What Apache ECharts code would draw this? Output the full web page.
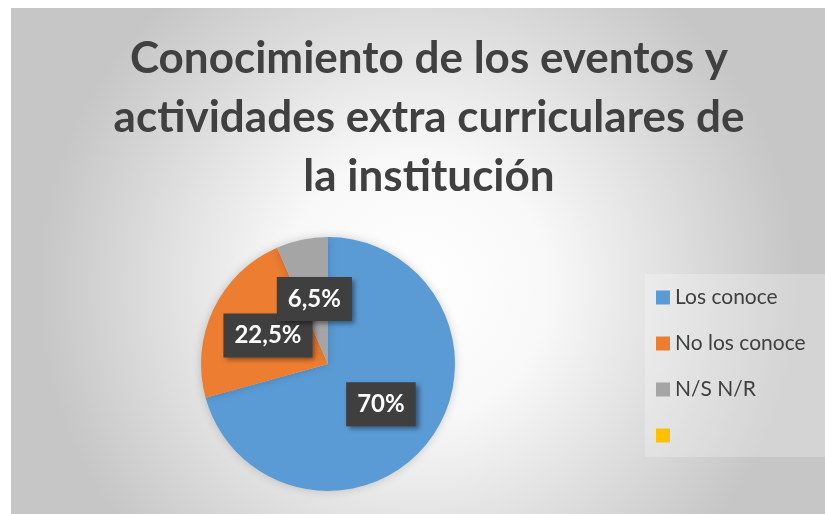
<!DOCTYPE html>
<html>
<head>
<meta charset="utf-8">
<script src="https://cdn.jsdelivr.net/npm/echarts@6/dist/echarts.min.js"></script>
<style>
  html, body { margin: 0; padding: 0; background: #fff; }
  #chart { position: absolute; left: 11px; top: 8px; width: 814px; height: 506px; }
</style>
</head>
<body>
<div id="chart"></div>
<script>
// datos
var categorias = ["Los conoce", "No los conoce", "N/S N/R", " "];
var valores = [0.70, 0.225, 0.065, 0];
var etiquetas = ["70%", "22,5%", "6,5%", ""];
var colores = ["#5B9BD5", "#ED7D31", "#A5A5A5", "#FFC000"];

var chart = echarts.init(document.getElementById("chart"));

var datos = categorias.map(function (c, i) {
  return {
    name: c,
    value: valores[i],
    itemStyle: { color: colores[i] },
    label: { show: valores[i] > 0 }
  };
});

chart.setOption({
  backgroundColor: {
    type: "radial",
    x: 0.5,
    y: 0.55,
    r: 0.75,
    colorStops: [
      { offset: 0, color: "#ffffff" },
      { offset: 0.35, color: "#f8f8f8" },
      { offset: 1, color: "#c6c6c6" }
    ]
  },
  title: {
    text: "Conocimiento de los eventos y\nactividades extra curriculares de\nla institución",
    left: 413,
    textAlign: "center",
    top: 16,
    textStyle: {
      fontFamily: "Lato",
      fontWeight: "bold",
      fontSize: 44,
      lineHeight: 59,
      color: "#404040"
    }
  },
  legend: {
    orient: "vertical",
    left: 634,
    top: 266,
    width: 180,
    padding: [13, 20, 11, 11],
    backgroundColor: "rgba(255,255,255,0.25)",
    itemWidth: 14,
    itemHeight: 14,
    itemGap: 25,
    icon: "rect",
    data: categorias,
    textStyle: {
      fontFamily: "Lato",
      fontSize: 21,
      lineHeight: 20,
      color: "#404040"
    }
  },
  series: [
    {
      type: "pie",
      center: [317, 356],
      radius: 127,
      startAngle: 90,
      clockwise: true,
      silent: true,
      avoidLabelOverlap: false,
      labelLayout: { hideOverlap: false },
      itemStyle: {
        shadowBlur: 10,
        shadowColor: "rgba(0,0,0,0.18)"
      },
      label: {
        position: "inside",
        formatter: function (p) { return etiquetas[p.dataIndex]; },
        fontFamily: "Lato",
        fontWeight: "bold",
        fontSize: 24,
        color: "#ffffff",
        backgroundColor: "#3f3f3f",
        padding: [11, 11, 9, 11],
        shadowBlur: 5,
        shadowColor: "rgba(0,0,0,0.45)",
        shadowOffsetX: 3,
        shadowOffsetY: 3
      },
      labelLine: { show: false },
      data: datos
    }
  ]
});
</script>
</body>
</html>
